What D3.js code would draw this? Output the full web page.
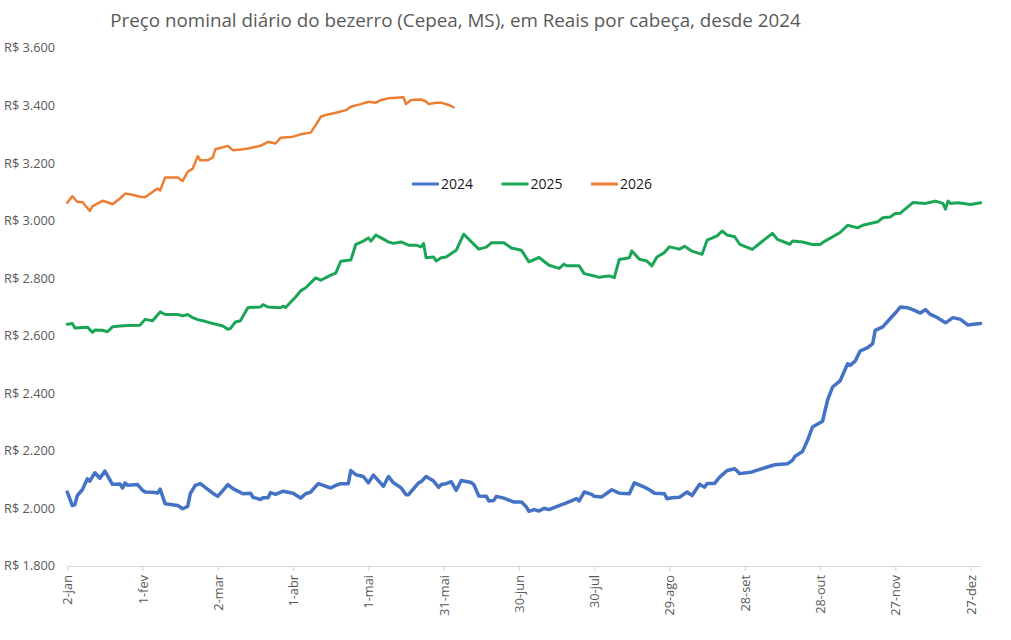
<!DOCTYPE html>
<html>
<head>
<meta charset="utf-8">
<script src="https://cdn.jsdelivr.net/npm/d3@7"></script>
<style>
  body { margin: 0; background: #fff; }
  svg { display: block; font-family: "Open Sans", sans-serif; }
</style>
</head>
<body>
<svg id="chart" width="1011" height="640"></svg>
<script>
// dias contados a partir de 2-jan, valores em R$ por cabeça
const dias2024 = [0,2,3,4,6,8,9,11,13,15,18,21,22,23,24,28,30,31,34,36,37,39,44,46,48,49,51,53,56,58,60,64,66,70,73,74,77,78,80,81,83,86,90,93,95,97,100,102,105,107,109,112,113,115,118,120,122,126,128,130,133,135,136,140,141,143,146,148,149,151,153,155,157,161,162,164,167,168,170,171,174,178,181,183,184,186,188,190,192,196,198,203,204,206,209,210,213,217,220,224,226,230,232,234,238,239,241,244,247,249,252,254,255,258,260,263,266,268,273,275,279,282,287,289,290,293,295,297,301,303,305,308,311,312,314,316,319,321,322,325,328,330,332,335,337,340,342,344,345,347,350,353,356,359,361,364];
const valores2024 = [2057,2010,2013,2045,2065,2103,2095,2124,2105,2130,2084,2085,2071,2088,2081,2083,2063,2057,2056,2054,2067,2016,2010,1999,2007,2051,2080,2086,2066,2053,2042,2083,2069,2051,2053,2039,2031,2037,2037,2055,2049,2060,2053,2036,2051,2057,2086,2080,2071,2080,2086,2086,2132,2117,2111,2089,2116,2077,2111,2089,2072,2048,2048,2089,2093,2111,2095,2073,2083,2086,2093,2063,2097,2090,2083,2043,2042,2026,2028,2042,2036,2022,2022,2005,1990,1996,1991,2001,1996,2010,2016,2034,2026,2057,2049,2042,2040,2065,2053,2051,2089,2074,2065,2053,2051,2034,2037,2039,2057,2045,2084,2074,2087,2087,2109,2132,2138,2121,2127,2133,2144,2152,2155,2167,2181,2198,2236,2283,2303,2376,2422,2443,2503,2497,2512,2547,2559,2573,2619,2631,2660,2679,2700,2697,2691,2679,2691,2674,2671,2662,2645,2663,2657,2637,2640,2643];

const dias2025 = [0,2,3,8,10,11,14,16,18,21,24,29,31,34,37,39,44,46,48,50,52,54,57,62,64,65,67,69,72,77,78,80,85,86,87,91,93,95,99,101,105,107,109,113,115,118,120,121,123,126,128,130,133,136,139,141,142,143,146,147,149,151,155,158,164,167,169,174,177,181,184,188,192,196,198,199,204,206,210,212,214,216,218,220,224,225,228,231,233,235,238,240,244,246,249,253,255,259,261,263,266,268,273,281,283,288,289,293,297,300,302,308,311,315,317,323,325,328,330,332,335,337,342,345,346,349,350,351,352,355,360,364];
const valores2025 = [2640,2643,2627,2630,2612,2620,2619,2614,2631,2634,2636,2637,2657,2652,2683,2674,2674,2669,2674,2663,2656,2652,2645,2634,2623,2625,2648,2652,2698,2700,2708,2700,2697,2703,2698,2735,2756,2767,2801,2793,2811,2818,2859,2863,2918,2929,2940,2929,2950,2936,2926,2921,2926,2915,2915,2909,2921,2871,2874,2860,2871,2874,2897,2953,2901,2908,2923,2923,2905,2897,2857,2872,2845,2834,2849,2843,2843,2816,2808,2803,2806,2808,2802,2865,2871,2895,2866,2860,2843,2874,2889,2909,2901,2911,2894,2883,2932,2947,2964,2950,2944,2918,2900,2956,2935,2918,2929,2926,2917,2917,2929,2959,2984,2975,2984,2996,3010,3013,3025,3026,3048,3063,3060,3066,3068,3060,3040,3068,3060,3062,3056,3062];

const dias2026 = [0,2,4,6,9,10,14,16,18,21,23,26,29,31,34,36,37,39,44,46,48,50,52,53,56,58,59,64,66,70,72,77,80,83,85,90,93,97,99,101,103,107,111,113,117,120,123,125,128,134,135,137,141,143,144,147,149,152,154];
const valores2026 = [3062,3085,3065,3065,3034,3050,3069,3064,3057,3077,3094,3090,3083,3081,3100,3112,3105,3150,3150,3138,3170,3181,3224,3210,3210,3220,3248,3260,3245,3248,3251,3260,3274,3268,3288,3292,3300,3306,3332,3361,3367,3375,3384,3396,3405,3413,3410,3419,3425,3429,3405,3419,3421,3414,3405,3410,3410,3402,3394];

const series = [
  {nome: "2024", dias: dias2024, valores: valores2024, cor: "#4472C4", largura: 3.5},
  {nome: "2025", dias: dias2025, valores: valores2025, cor: "#1BA556", largura: 3},
  {nome: "2026", dias: dias2026, valores: valores2026, cor: "#ED7D31", largura: 2.5}
];

const yTicks = [1800,2000,2200,2400,2600,2800,3000,3200,3400,3600];
const titulo = "Preço nominal diário do bezerro (Cepea, MS), em Reais por cabeça, desde 2024";

const svg = d3.select("#chart");
const mLeft = 67.3, mRight = 980.6, mTop = 48, mBottom = 566;

const inicio = new Date(2024, 0, 2);
const fim = new Date(2024, 11, 31);

const x = d3.scaleTime().domain([inicio, fim]).range([mLeft, mRight]);
const y = d3.scaleLinear().domain([1800, 3600]).range([mBottom, mTop]);

const pt = d3.timeFormatLocale({
  dateTime: "%d/%m/%Y", date: "%d/%m/%Y", time: "%H:%M:%S",
  periods: ["AM", "PM"],
  days: ["domingo","segunda","terça","quarta","quinta","sexta","sábado"],
  shortDays: ["dom","seg","ter","qua","qui","sex","sáb"],
  months: ["janeiro","fevereiro","março","abril","maio","junho","julho","agosto","setembro","outubro","novembro","dezembro"],
  shortMonths: ["jan","fev","mar","abr","mai","jun","jul","ago","set","out","nov","dez"]
});
const fmtDia = pt.format("%-d-%b");
const fmtNum = d3.formatLocale({decimal: ",", thousands: ".", grouping: [3], currency: ["R$ ", ""]}).format("$,.0f");

// título
svg.append("text")
  .attr("x", 455.5)
  .attr("y", 27)
  .attr("text-anchor", "middle")
  .style("font-size", "18.8px")
  .style("fill", "#595959")
  .text(titulo);

// eixo Y (só rótulos)
svg.append("g")
  .selectAll("text")
  .data(yTicks)
  .join("text")
  .attr("x", 4)
  .attr("y", d => y(d))
  .attr("dy", "0.35em")
  .style("font-size", "12.8px")
  .style("fill", "#595959")
  .text(d => fmtNum(d));

// eixo X a cada 30 dias
const xTicks = d3.range(0, 361, 30).map(d => d3.timeDay.offset(inicio, d));
const xAxis = svg.append("g")
  .attr("transform", `translate(0,${mBottom})`)
  .call(d3.axisBottom(x).tickValues(xTicks).tickFormat(fmtDia).tickSize(5).tickSizeOuter(0));
xAxis.select(".domain").attr("stroke", "#d9d9d9").attr("stroke-width", 1.2);
xAxis.selectAll(".tick line").attr("stroke", "#d9d9d9").attr("stroke-width", 1.2);
xAxis.selectAll(".tick text")
  .attr("transform", "rotate(-90)")
  .attr("x", -9)
  .attr("y", 0)
  .attr("dy", "0.35em")
  .attr("text-anchor", "end")
  .style("font-size", "12.8px")
  .style("font-family", "'Open Sans', sans-serif")
  .style("fill", "#595959");

// linhas
const linha = d3.line()
  .x(d => x(d3.timeDay.offset(inicio, d[0])))
  .y(d => y(d[1]));

svg.append("g")
  .selectAll("path")
  .data(series)
  .join("path")
  .attr("d", s => linha(s.dias.map((d, i) => [d, s.valores[i]])))
  .attr("fill", "none")
  .attr("stroke", s => s.cor)
  .attr("stroke-width", s => s.largura)
  .attr("stroke-linejoin", "round")
  .attr("stroke-linecap", "round");

// legenda
const legenda = svg.append("g")
  .selectAll("g")
  .data(series)
  .join("g")
  .attr("transform", (s, i) => `translate(${412 + i * 89.5},184)`);

legenda.append("line")
  .attr("x1", 0).attr("x2", 27)
  .attr("stroke", s => s.cor)
  .attr("stroke-width", 3);

legenda.append("text")
  .attr("x", 29)
  .attr("dy", "0.35em")
  .style("font-size", "14px")
  .style("fill", "#1a1a1a")
  .text(s => s.nome);
</script>
</body>
</html>
